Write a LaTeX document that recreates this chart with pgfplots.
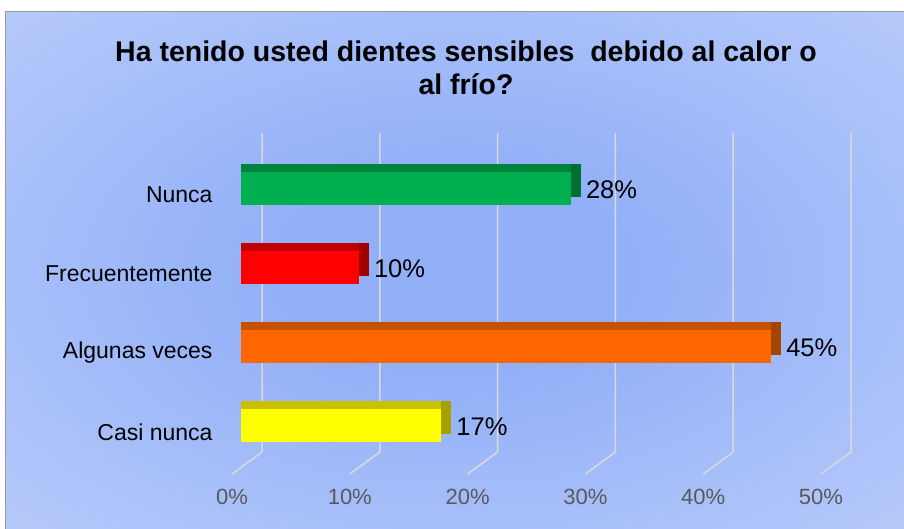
\documentclass[border=0pt]{standalone}
\usepackage{pgfplots}
\pgfplotsset{compat=1.18}
\usepackage{fontspec}
\setmainfont{Liberation Sans}
\definecolor{bgin}{RGB}{146,176,248}
\definecolor{bgmid}{RGB}{200,214,251}
\definecolor{bgout}{RGB}{226,233,253}
\definecolor{gfront}{HTML}{00B050}
\definecolor{gtop}{HTML}{00843D}
\definecolor{gside}{HTML}{006F33}
\definecolor{rfront}{HTML}{FF0000}
\definecolor{rtop}{HTML}{C00000}
\definecolor{rside}{HTML}{A00000}
\definecolor{ofront}{HTML}{FF6600}
\definecolor{otop}{HTML}{C65200}
\definecolor{oside}{HTML}{A34400}
\definecolor{yfront}{HTML}{FFFF00}
\definecolor{ytop}{HTML}{C8C000}
\definecolor{yside}{HTML}{A8A000}
\definecolor{gridc}{HTML}{D9D9D9}
\definecolor{tickc}{HTML}{595959}
\pgfdeclareradialshading{bgshade}{\pgfpoint{0bp}{0bp}}{color(0bp)=(bgin); color(10bp)=(bgin); color(48bp)=(bgmid); color(72bp)=(bgout)}
\begin{document}
\begin{tikzpicture}
\useasboundingbox (0pt,0pt) rectangle (904pt,529pt);
\fill[white] (0pt,0pt) rectangle (904pt,529pt);
\shade[shading=bgshade] (5pt,0pt) rectangle (904pt,517pt);
\draw[gray!80, line width=1pt] (5pt,0pt) -- (5pt,517pt) -- (904pt,517pt);
\node[font=\fontsize{28.5}{33}\selectfont\bfseries, align=center] at (466pt,461pt) {Ha tenido usted dientes sensibles\ \ debido al calor o\\al frío?};
\begin{axis}[
  at={(241pt,55pt)}, anchor=south west,
  scale only axis, width=589pt, height=341pt,
  xmin=0, xmax=50, ymin=-0.608, ymax=3.708,
  clip=false,
  /pgf/number format/assume math mode=true,
  axis line style={draw=none}, tick style={draw=none},
  xtick={0,10,20,30,40,50},
  xticklabels={0\%,10\%,20\%,30\%,40\%,50\%},
  ytick={0,1,2,3},
  yticklabels={Casi nunca,Algunas veces,Frecuentemente,Nunca},
  xticklabel style={font=\fontsize{22}{26}\selectfont, text=tickc, inner sep=0pt, anchor=north, xshift=-9pt, yshift=-15pt},
  yticklabel style={font=\fontsize{23}{27}\selectfont, inner sep=0pt, anchor=east, xshift=-24pt, yshift=-6pt},
  xbar, bar width=33pt, bar shift=0pt,
  point meta=x,
  nodes near coords style={font=\fontsize{25.5}{29}\selectfont, inner sep=0pt, anchor=west, xshift=15pt, yshift=-1pt, text=black},
]
\pgfplotsinvokeforeach{0,10,20,30,40,50}{
  \draw[gridc, line width=1.5pt] ([xshift=21pt]axis cs:#1,3.708) -- ([xshift=21pt]axis cs:#1,-0.33) -- ([xshift=-9pt]axis cs:#1,-0.608);
}
% Nunca
\addplot[draw=none, fill=gside, xshift=10pt, yshift=8pt] coordinates {(28,3)};
\addplot[draw=none, fill=gtop, yshift=8pt] coordinates {(28,3)};
\addplot[draw=none, fill=gfront, nodes near coords={\pgfmathprintnumber{\pgfplotspointmeta}\%}] coordinates {(28,3)};
% Frecuentemente
\addplot[draw=none, fill=rside, xshift=10pt, yshift=8pt] coordinates {(10,2)};
\addplot[draw=none, fill=rtop, yshift=8pt] coordinates {(10,2)};
\addplot[draw=none, fill=rfront, nodes near coords={\pgfmathprintnumber{\pgfplotspointmeta}\%}] coordinates {(10,2)};
% Algunas veces
\addplot[draw=none, fill=oside, xshift=10pt, yshift=8pt] coordinates {(45,1)};
\addplot[draw=none, fill=otop, yshift=8pt] coordinates {(45,1)};
\addplot[draw=none, fill=ofront, nodes near coords={\pgfmathprintnumber{\pgfplotspointmeta}\%}] coordinates {(45,1)};
% Casi nunca
\addplot[draw=none, fill=yside, xshift=10pt, yshift=8pt] coordinates {(17,0)};
\addplot[draw=none, fill=ytop, yshift=8pt] coordinates {(17,0)};
\addplot[draw=none, fill=yfront, nodes near coords={\pgfmathprintnumber{\pgfplotspointmeta}\%}] coordinates {(17,0)};
\end{axis}
\end{tikzpicture}
\end{document}
